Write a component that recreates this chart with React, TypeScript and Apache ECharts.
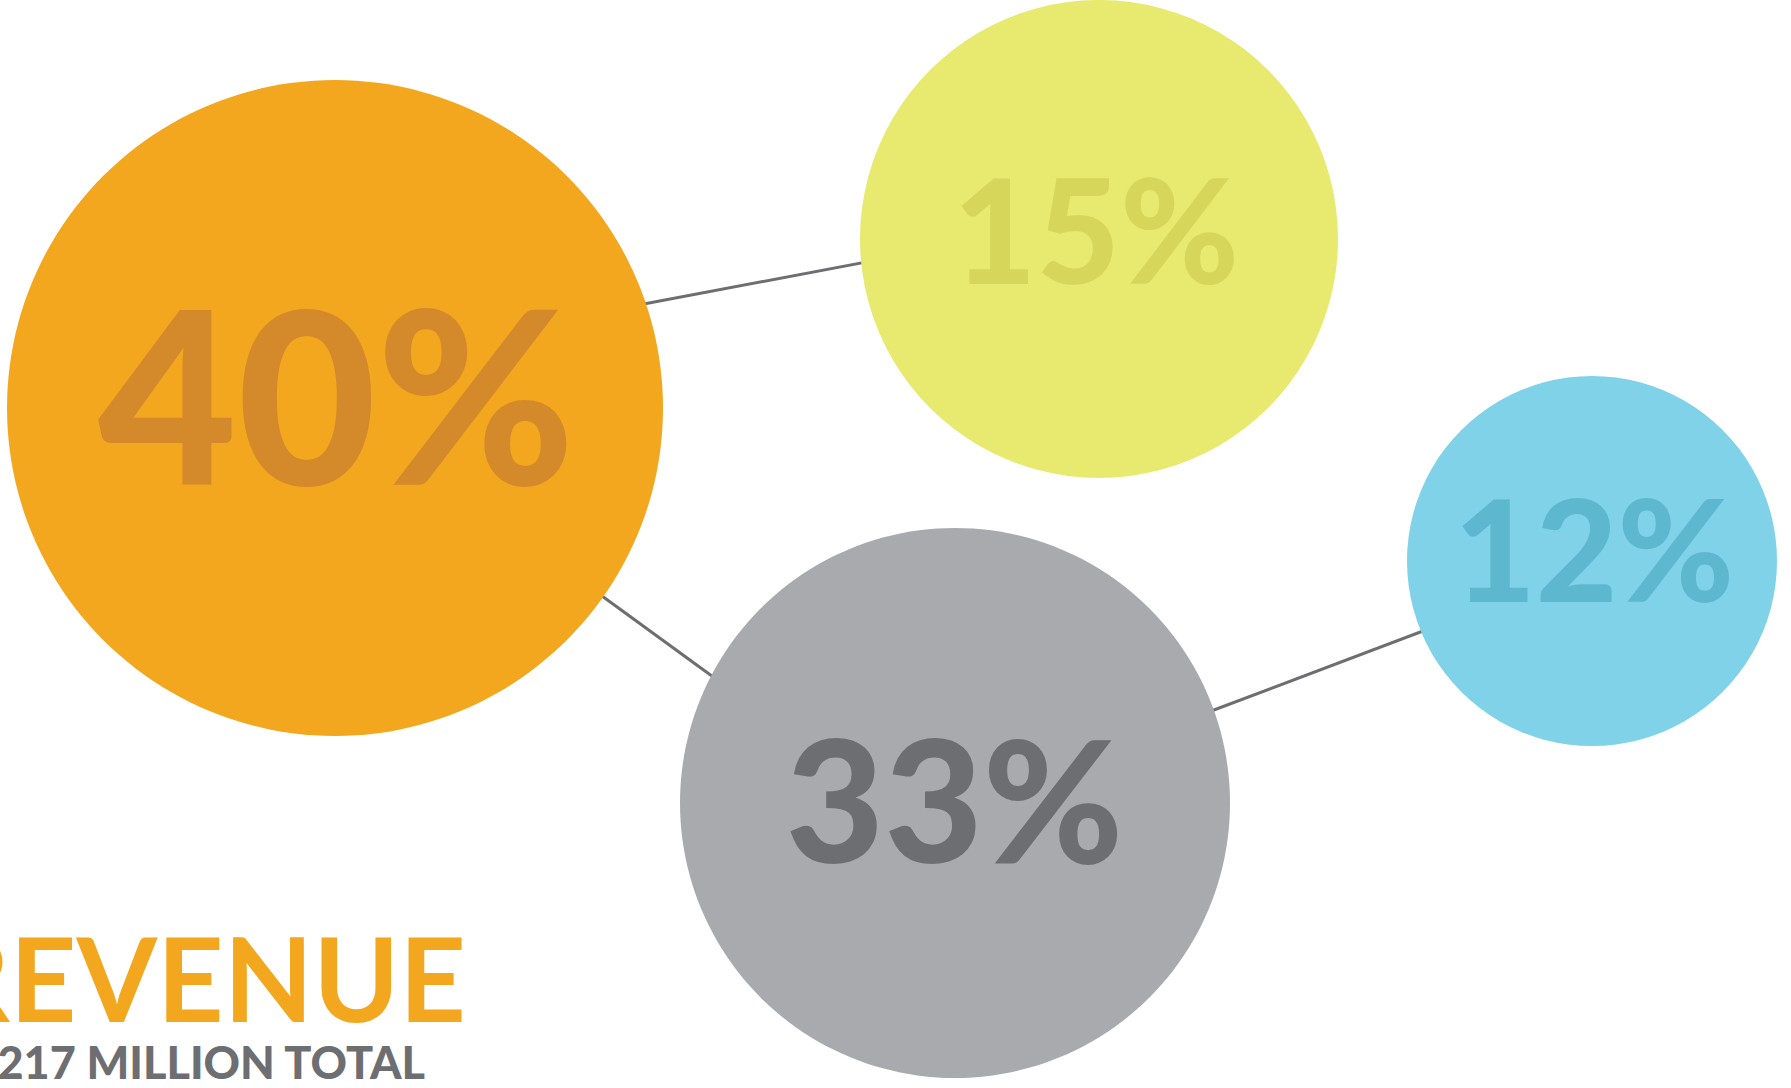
import React, { useEffect, useRef } from "react";
import * as echarts from "echarts";

// ---- data ----
const shares = [40, 15, 33, 12];
const centerX = [335, 1099, 955, 1592];
const centerY = [408, 239, 803, 561];
const bubbleRadius = [328, 239, 275, 185];

// connector segments (drawn under the bubbles)
const linkStart = [
  [620, 308.5],
  [580, 580],
  [1190, 719],
];
const linkEnd = [
  [900, 255.6],
  [740, 696.5],
  [1460, 617],
];

const titleText = "REVENUE";
const subtitleText = "$217 MILLION TOTAL";

// ---- styles ----
const W = 1791;
const H = 1088;
const fillColors = ["#F3A71F", "#E8EA6F", "#A9AAAD", "#80D2E8"];
const textColors = ["#D4892A", "#D6D65B", "#6D6E71", "#5DB8CF"];
const labelSizes = [240, 144, 170, 141];
const labelOffsets = [
  [1.5, -16.5],
  [-3, -10.5],
  [-0.5, -6],
  [2, -13.5],
];
const FONT = "Lato, 'Open Sans', sans-serif";

export default function App() {
  const ref = useRef<HTMLDivElement>(null);

  useEffect(() => {
    if (!ref.current) return;
    const chart = echarts.init(ref.current, null, { renderer: "svg" });

    const bubbleData = shares.map((v, i) => ({
      name: `${v}%`,
      value: [centerX[i], centerY[i], v],
      symbolSize: bubbleRadius[i] * 2,
      itemStyle: { color: fillColors[i], opacity: 1 },
      label: {
        show: true,
        position: "inside",
        formatter: `${v}%`,
        color: textColors[i],
        fontSize: labelSizes[i],
        fontFamily: FONT,
        fontWeight: 900,
        offset: labelOffsets[i],
      },
    }));

    const linkData = linkStart.map((s, i) => ({ coords: [s, linkEnd[i]] }));

    chart.setOption({
      animation: false,
      backgroundColor: "#ffffff",
      grid: { left: 0, right: 0, top: 0, bottom: 0 },
      xAxis: { type: "value", min: 0, max: W, show: false },
      yAxis: { type: "value", min: 0, max: H, inverse: true, show: false },
      series: [
        {
          type: "lines",
          coordinateSystem: "cartesian2d",
          z: 1,
          lineStyle: { color: "#6D6E71", width: 3, opacity: 1 },
          data: linkData,
          silent: true,
        },
        {
          type: "scatter",
          z: 2,
          symbol: "circle",
          data: bubbleData,
          silent: true,
        },
      ],
      graphic: [
        {
          type: "text",
          x: 466,
          y: 977,
          style: {
            text: titleText,
            fill: "#F3A71F",
            fontSize: 116,
            lineHeight: 100,
            fontFamily: FONT,
            fontWeight: 700,
            textAlign: "right",
            textVerticalAlign: "middle",
          },
        },
        {
          type: "text",
          x: 425,
          y: 1062,
          style: {
            text: subtitleText,
            fill: "#6D6E71",
            fontSize: 45,
            lineHeight: 40,
            fontFamily: FONT,
            fontWeight: 900,
            textAlign: "right",
            textVerticalAlign: "middle",
          },
        },
      ],
    });

    return () => chart.dispose();
  }, []);

  return (
    <div
      ref={ref}
      style={{ position: "fixed", left: 0, top: 0, width: W, height: H }}
    />
  );
}
